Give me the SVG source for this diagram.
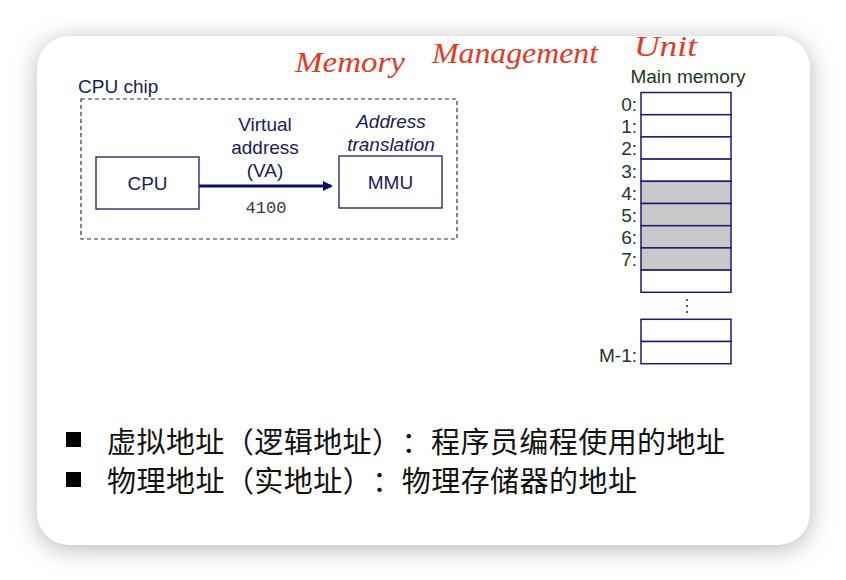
<svg xmlns="http://www.w3.org/2000/svg" width="846" height="580" viewBox="0 0 846 580">
  <defs>
    <filter id="shadow" x="-20%" y="-20%" width="140%" height="140%">
      <feGaussianBlur stdDeviation="12"/>
    </filter>
    <marker id="arrow" markerWidth="10" markerHeight="10" refX="8" refY="5" orient="auto" markerUnits="userSpaceOnUse" viewBox="0 0 10 10">
      <path d="M0,0 L10,5 L0,10 z" fill="#0c0c66"/>
    </marker>
    <style>
      .box { fill: #ffffff; stroke: #1c1c66; stroke-width: 1.3; }
      .cell { fill: #ffffff; stroke: #1c1c70; stroke-width: 1.5; }
      .cell.used { fill: #c9c9c9; }
      .lbl { font-family: "Liberation Sans", Arial, sans-serif; font-size: 19px; fill: #1a1a5c; }
      .mem { font-family: "Liberation Sans", Arial, sans-serif; font-size: 19px; fill: #233823; text-anchor: end; }
      .ink { font-family: "Liberation Serif", serif; font-style: italic; font-size: 30px; fill: #e23a24; }
      .cn { font-family: "Noto Sans CJK SC", sans-serif; font-size: 29px; font-weight: 400; fill: #111111;
            font-feature-settings: "chws" 0, "halt" 0, "palt" 0; text-spacing-trim: space-all; }
    </style>
  </defs>

  <!-- page background and card -->
  <rect x="0" y="0" width="846" height="580" fill="#ffffff"/>
  <rect x="37" y="40" width="773" height="509" rx="32" fill="#b8b8b8" filter="url(#shadow)"/>
  <rect x="37" y="36" width="773" height="509" rx="32" fill="#ffffff"/>

  <!-- handwritten note -->
  <g id="note">
    <text class="ink" x="295" y="72" textLength="110" lengthAdjust="spacingAndGlyphs">Memory</text>
    <text class="ink" x="432" y="63" textLength="166" lengthAdjust="spacingAndGlyphs">Management</text>
    <text class="ink" x="634" y="56" textLength="63" lengthAdjust="spacingAndGlyphs">Unit</text>
  </g>

  <!-- CPU chip boundary -->
  <g id="cpu-chip">
    <text class="lbl" x="78" y="93">CPU chip</text>
    <rect x="81" y="99" width="376" height="140" fill="none" stroke="#2a2a55" stroke-width="1.2" stroke-dasharray="4,3"/>
  </g>

  <g id="cpu">
    <rect class="box" x="96" y="157" width="103" height="52"/>
    <text class="lbl" x="147.5" y="190" text-anchor="middle">CPU</text>
  </g>

  <g id="mmu">
    <text class="lbl" x="391" y="128" text-anchor="middle" font-style="italic">Address</text>
    <text class="lbl" x="391" y="151" text-anchor="middle" font-style="italic">translation</text>
    <rect class="box" x="339" y="156" width="103" height="52"/>
    <text class="lbl" x="390.5" y="189" text-anchor="middle">MMU</text>
  </g>

  <!-- connectors -->
  <g id="connectors">
    <line x1="199" y1="186" x2="331" y2="186" stroke="#0c0c66" stroke-width="3" marker-end="url(#arrow)"/>
    <text class="lbl" x="265" y="131" text-anchor="middle">Virtual</text>
    <text class="lbl" x="265" y="154" text-anchor="middle">address</text>
    <text class="lbl" x="265" y="177" text-anchor="middle">(VA)</text>
    <text x="266" y="213" text-anchor="middle" font-family="Liberation Mono, monospace" font-size="17" fill="#3a3a3a">4100</text>
  </g>

  <!-- main memory -->
  <g id="main-memory">
    <text x="688" y="83" text-anchor="middle" font-family="Liberation Sans, Arial, sans-serif" font-size="19" fill="#1e381e">Main memory</text>
    <rect class="cell" x="641" y="92.5" width="90" height="22.2"/>
    <rect class="cell" x="641" y="114.7" width="90" height="22.2"/>
    <rect class="cell" x="641" y="136.9" width="90" height="22.2"/>
    <rect class="cell" x="641" y="159.1" width="90" height="22.2"/>
    <rect class="cell used" x="641" y="181.3" width="90" height="22.2"/>
    <rect class="cell used" x="641" y="203.5" width="90" height="22.2"/>
    <rect class="cell used" x="641" y="225.7" width="90" height="22.2"/>
    <rect class="cell used" x="641" y="247.9" width="90" height="22.2"/>
    <rect class="cell" x="641" y="270.1" width="90" height="22.2"/>
    <rect class="cell" x="641" y="319.3" width="90" height="22.2"/>
    <rect class="cell" x="641" y="341.5" width="90" height="22.2"/>
    <circle cx="687" cy="300" r="1.1" fill="#333355"/>
    <circle cx="687" cy="306" r="1.1" fill="#333355"/>
    <circle cx="687" cy="312" r="1.1" fill="#333355"/>
    <text class="mem" x="637" y="111">0:</text>
    <text class="mem" x="637" y="133">1:</text>
    <text class="mem" x="637" y="155">2:</text>
    <text class="mem" x="637" y="178">3:</text>
    <text class="mem" x="637" y="200">4:</text>
    <text class="mem" x="637" y="222">5:</text>
    <text class="mem" x="637" y="244">6:</text>
    <text class="mem" x="637" y="266">7:</text>
    <text class="mem" x="637" y="362">M-1:</text>
  </g>

  <!-- definitions -->
  <g id="notes">
    <rect x="66" y="432" width="15" height="15" fill="#000000"/>
    <text class="cn" x="107" y="453" textLength="618" lengthAdjust="spacing">虚拟地址（逻辑地址）：程序员编程使用的地址</text>
    <rect x="66" y="472" width="15" height="15" fill="#000000"/>
    <text class="cn" x="107" y="492" textLength="530" lengthAdjust="spacing">物理地址（实地址）：物理存储器的地址</text>
  </g>
</svg>
